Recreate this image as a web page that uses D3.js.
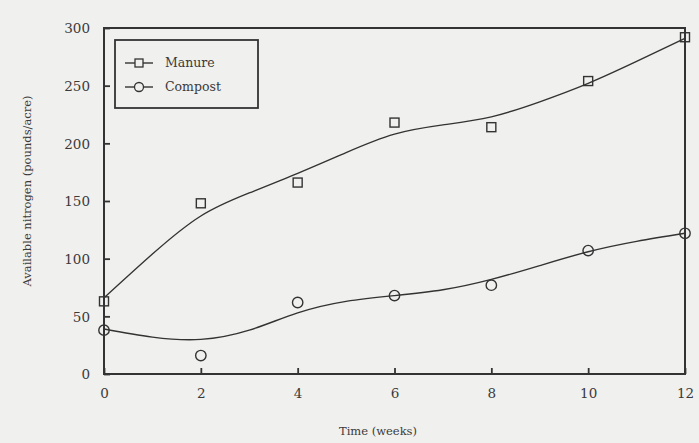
<!DOCTYPE html>
<html>
<head>
<meta charset="utf-8">
<script src="https://cdn.jsdelivr.net/npm/d3@7"></script>
<style>
  body { margin: 0; background: #f0f0ee; }
  svg { display: block; }
  text { font-family: "DejaVu Serif", serif; fill: #3a3a3a; }
</style>
</head>
<body>
<div class="chart"></div>
<script>
// measured points
const weeks = [0, 2, 4, 6, 8, 10, 12];
const manure = [63, 148, 166, 218, 214, 254, 292];
const compost = [38, 16, 62, 68, 77, 107, 122];

// fitted curves at each week
const curveWeeks = [0, 1, 2, 3, 4, 5, 6, 7, 8, 9, 10, 11, 12];
const manureFit = [66, 104, 137, 157, 174, 192, 208, 216, 223, 236, 252, 271, 291];
const compostFit = [39, 32, 30, 38, 53, 63, 68, 73, 82, 94, 106, 115, 122];

const xTicks = [0, 2, 4, 6, 8, 10, 12];
const yTicks = [0, 50, 100, 150, 200, 250, 300];
const seriesNames = ['Manure', 'Compost'];

const outerWidth = 699;
const outerHeight = 443;
const margin = { top: 28, right: 14, bottom: 69, left: 104 };
const innerWidth = outerWidth - margin.left - margin.right;
const innerHeight = outerHeight - margin.top - margin.bottom;
const ink = '#333';

const svg = d3.select('.chart')
  .append('svg')
    .attr('width', outerWidth)
    .attr('height', outerHeight);

const chartG = svg.append('g')
  .attr('transform', `translate(${margin.left}, ${margin.top})`);

const x = d3.scaleLinear().domain([0, 12]).range([0, innerWidth]);
const y = d3.scaleLinear().domain([0, 300]).range([innerHeight, 0]);

// axes with inward ticks
const xAxis = chartG.append('g')
  .attr('transform', `translate(0, ${innerHeight})`)
  .call(d3.axisBottom(x).tickValues(xTicks).tickSize(-6).tickPadding(14));
const yAxis = chartG.append('g')
  .call(d3.axisLeft(y).tickValues(yTicks).tickSize(-6).tickPadding(14));

[xAxis, yAxis].forEach(a => {
  a.select('.domain').remove();
  a.selectAll('line').attr('stroke', ink).attr('stroke-width', 1.8);
  a.selectAll('text')
    .style('font-family', '"DejaVu Serif", serif')
    .style('font-size', '13.5px')
    .attr('fill', '#3a3a3a');
});
yAxis.selectAll('text').attr('dy', '0.36em');

// frame
chartG.append('rect')
  .attr('width', innerWidth)
  .attr('height', innerHeight)
  .attr('fill', 'none')
  .attr('stroke', ink)
  .attr('stroke-width', 2);

// fitted curves
const line = d3.line()
  .x(d => x(d[0]))
  .y(d => y(d[1]))
  .curve(d3.curveNatural);

[manureFit, compostFit].forEach(fit => {
  chartG.append('path')
    .datum(curveWeeks.map((w, i) => [w, fit[i]]))
    .attr('d', line)
    .attr('fill', 'none')
    .attr('stroke', ink)
    .attr('stroke-width', 1.4);
});

// markers
chartG.selectAll('.sq')
  .data(weeks.map((w, i) => [w, manure[i]]))
  .enter().append('rect')
    .attr('class', 'sq')
    .attr('x', d => x(d[0]) - 4.5)
    .attr('y', d => y(d[1]) - 4.5)
    .attr('width', 9)
    .attr('height', 9)
    .attr('fill', 'none')
    .attr('stroke', ink)
    .attr('stroke-width', 1.4);

chartG.selectAll('.ci')
  .data(weeks.map((w, i) => [w, compost[i]]))
  .enter().append('circle')
    .attr('class', 'ci')
    .attr('cx', d => x(d[0]))
    .attr('cy', d => y(d[1]))
    .attr('r', 5.2)
    .attr('fill', 'none')
    .attr('stroke', ink)
    .attr('stroke-width', 1.4);

// legend
const legend = chartG.append('g').attr('transform', 'translate(11, 12)');
legend.append('rect')
  .attr('width', 143)
  .attr('height', 68)
  .attr('fill', 'none')
  .attr('stroke', ink)
  .attr('stroke-width', 1.8);

seriesNames.forEach((name, i) => {
  const row = legend.append('g').attr('transform', `translate(0, ${23 + i * 24})`);
  row.append('line')
    .attr('x1', 10).attr('x2', 38)
    .attr('stroke', ink).attr('stroke-width', 1.4);
  if (i === 0) {
    row.append('rect')
      .attr('x', 20).attr('y', -4).attr('width', 8).attr('height', 8)
      .attr('fill', '#f0f0ee').attr('stroke', ink).attr('stroke-width', 1.3);
  } else {
    row.append('circle')
      .attr('cx', 24).attr('r', 4.5)
      .attr('fill', '#f0f0ee').attr('stroke', ink).attr('stroke-width', 1.3);
  }
  row.append('text')
    .attr('x', 50)
    .attr('dy', '0.35em')
    .style('font-size', '12.5px')
    .text(name);
});

// axis titles
svg.append('text')
  .attr('x', 378)
  .attr('y', 435)
  .attr('text-anchor', 'middle')
  .style('font-size', '11.5px')
  .text('Time (weeks)');

svg.append('text')
  .attr('transform', 'translate(31, 191) rotate(-90)')
  .attr('text-anchor', 'middle')
  .style('font-size', '11.5px')
  .text('Available nitrogen (pounds/acre)');
</script>
</body>
</html>
